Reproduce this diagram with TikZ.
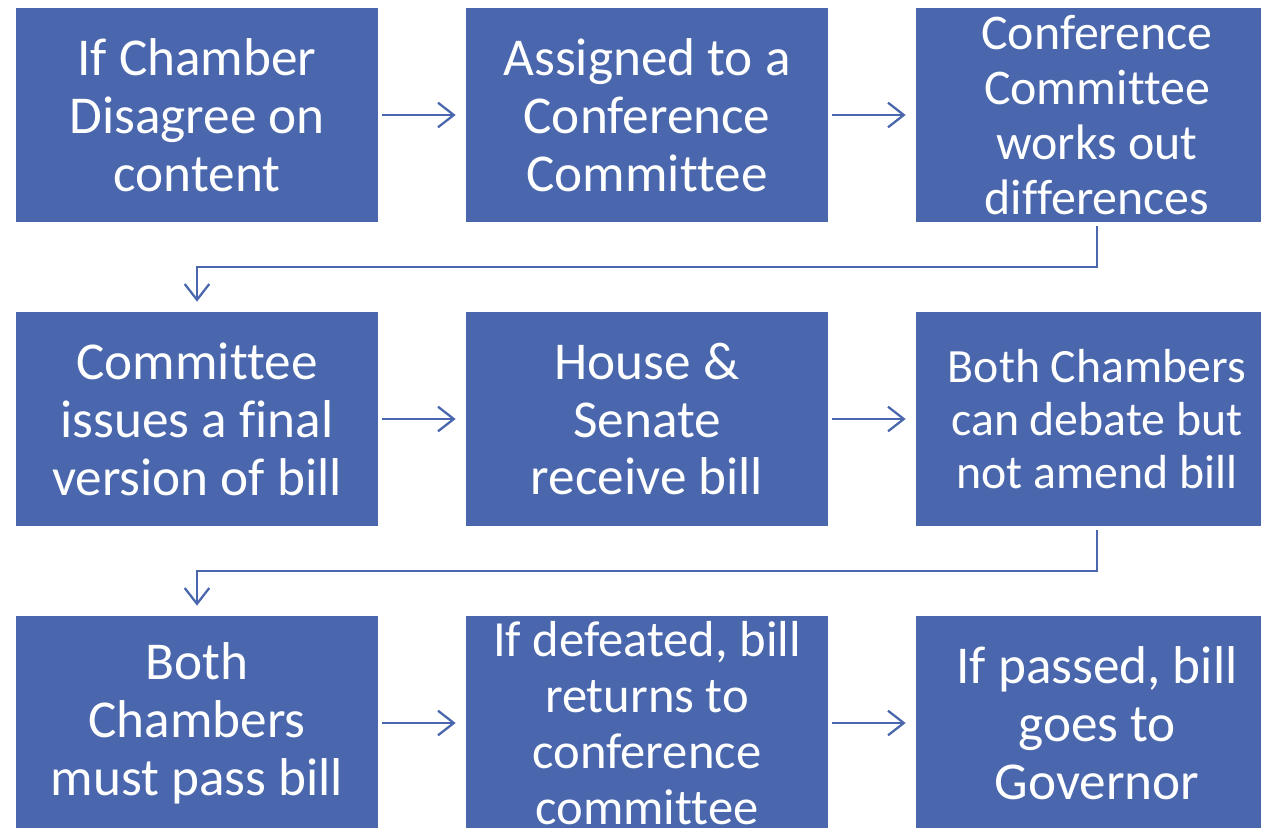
\documentclass[tikz,border=0pt]{standalone}
\usepackage{fontspec}
\setmainfont[RawFeature={-liga;-clig;-dlig}]{Carlito}
\usetikzlibrary{arrows.meta}
\definecolor{boxblue}{HTML}{4A67AE}
\tikzset{
    stepbox/.style={fill=boxblue, text=white, inner sep=0pt, align=center,
        minimum width=7.24cm, minimum height=4.28cm,
        font=\fontsize{30.3}{33}\selectfont},
    flow/.style={draw=boxblue, line width=1.3pt,
        -{Straight Barb[length=9pt,width=14pt]},
        shorten <=2.3pt, shorten >=5.7pt}
}
\begin{document}
\begin{tikzpicture}[x=0.02cm, y=-0.02cm]
    \useasboundingbox (0,0) rectangle (1261,828);
    \clip (0,0) rectangle (1261,828);

    % First row
    \node[stepbox] (disagree) at (197,115) {If Chamber\\Disagree on\\content};
    \node[stepbox] (assigned) at (647,115) {Assigned to a\\Conference\\Committee};
    \node[stepbox, font=\fontsize{28.4}{31.2}\selectfont] (works) at (1097,115)
        {Conference\\Committee\\works out\\differences};

    % Second row
    \node[stepbox] (final) at (197,419) {Committee\\issues a final\\version of bill};
    \node[stepbox] (receive) at (647,419) {House \&\\Senate\\receive bill};
    \node[stepbox, font=\fontsize{27.2}{30.4}\selectfont] (debate) at (1097,419)
        {Both Chambers\\can debate but\\not amend bill};

    % Third row
    \node[stepbox] (pass) at (197,723) {Both\\Chambers\\must pass bill};
    \node[stepbox, font=\fontsize{28.8}{31.8}\selectfont] (defeated) at (647,723)
        {If defeated, bill\\returns to\\conference\\committee};
    \node[stepbox] (governor) at (1097,723) {If passed, bill\\goes to\\Governor};

    % Arrows along the rows
    \draw[flow] (disagree) -- (assigned);
    \draw[flow] (assigned) -- (works);
    \draw[flow] (final) -- (receive);
    \draw[flow] (receive) -- (debate);
    \draw[flow] (pass) -- (defeated);
    \draw[flow] (defeated) -- (governor);

    % Arrows down to the next row
    \draw[flow] (works.south) -- ++(0,45) -| (final.north);
    \draw[flow] (debate.south) -- ++(0,45) -| (pass.north);
\end{tikzpicture}
\end{document}
